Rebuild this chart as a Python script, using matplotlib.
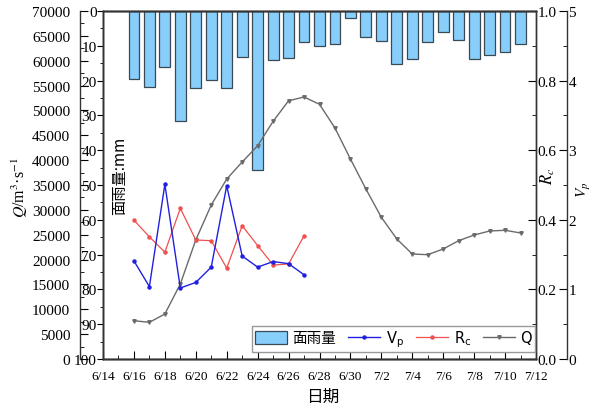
import numpy as np
import pandas as pd
import matplotlib
matplotlib.use('Agg')
import matplotlib.pyplot as plt
from matplotlib.ticker import MultipleLocator

plt.rcParams['font.family'] = ['Liberation Serif', 'Noto Sans CJK SC']

# daily areal rainfall (mm), 6/16 - 7/11
rain_dates = ['06-16', '06-17', '06-18', '06-19', '06-20', '06-21', '06-22', '06-23',
              '06-24', '06-25', '06-26', '06-27', '06-28', '06-29', '06-30', '07-01',
              '07-02', '07-03', '07-04', '07-05', '07-06', '07-07', '07-08', '07-09',
              '07-10', '07-11']
rain = [19.5, 21.9, 16.1, 31.7, 22.0, 19.7, 22.1, 13.2, 45.8, 14.1, 13.4, 8.9, 10.0,
        9.5, 1.9, 7.4, 8.5, 15.2, 13.8, 8.9, 6.0, 8.2, 13.8, 12.6, 11.8, 9.6]

# discharge Q (m3/s), same dates
q = [7700, 7380, 9050, 15090, 23940, 30980, 36200, 39630, 42900, 47810, 51940, 52700,
     51230, 46470, 40230, 34200, 28500, 24140, 21120, 20980, 22130, 23800, 24940,
     25750, 25890, 25350]

# Vp and Rc, 6/16 - 6/27
idx_dates = ['06-16', '06-17', '06-18', '06-19', '06-20', '06-21', '06-22', '06-23',
             '06-24', '06-25', '06-26', '06-27']
vp = [1.41, 1.04, 2.51, 1.02, 1.10, 1.32, 2.49, 1.48, 1.32, 1.40, 1.37, 1.21]
rc = [0.399, 0.351, 0.307, 0.433, 0.342, 0.340, 0.261, 0.383, 0.326, 0.270, 0.273, 0.354]

tick_labels = ['6/14', '6/16', '6/18', '6/20', '6/22', '6/24', '6/26', '6/28', '6/30',
               '7/2', '7/4', '7/6', '7/8', '7/10', '7/12']

start = pd.Timestamp('2020-06-14')
def to_day(ds):
    return np.array([(pd.Timestamp('2020-' + d) - start).days for d in ds])

x_rain = to_day(rain_dates)
x_idx = to_day(idx_dates)

fig = plt.figure(figsize=(6, 4.1), dpi=100)
ax = fig.add_axes([103/600, 50/410, 433/600, 348/410])

# rainfall bars hanging from the top
bars = ax.bar(x_rain, rain, width=0.7, color='#87cefa', edgecolor='#3a4a55',
              linewidth=0.9, label='面雨量')
ax.set_ylim(100, 0)
ax.set_xlim(0, 28)
ax.yaxis.set_major_locator(MultipleLocator(10))
ax.yaxis.set_minor_locator(MultipleLocator(5))
ax.set_xticks(np.arange(0, 29, 2))
ax.set_xticklabels(tick_labels)
ax.xaxis.set_minor_locator(MultipleLocator(1))
ax.tick_params(axis='y', which='both', direction='out', labelsize=11, pad=0.5)
ax.tick_params(axis='y', which='major', length=4)
ax.tick_params(axis='y', which='minor', length=2.5)
ax.tick_params(axis='x', which='both', direction='in', labelsize=9.5, pad=8)
ax.tick_params(axis='x', which='major', length=6)
ax.tick_params(axis='x', which='minor', length=3)

# Q axis, offset to the left
axq = ax.twinx()
axq.spines['left'].set_position(('axes', -23/433))
axq.spines['left'].set_visible(True)
axq.spines['right'].set_visible(False)
axq.yaxis.tick_left()
axq.set_ylim(0, 70000)
axq.yaxis.set_major_locator(MultipleLocator(5000))
axq.yaxis.set_minor_locator(MultipleLocator(2500))
axq.tick_params(axis='y', which='both', direction='in', labelsize=11, pad=7)
axq.tick_params(axis='y', which='major', length=6)
axq.tick_params(axis='y', which='minor', length=3)
lq, = axq.plot(x_rain, q, color='#6a6a6a', lw=1.0, marker='v', ms=2.5, label='Q')

# Rc axis
axr = ax.twinx()
axr.set_ylim(0, 1.0)
axr.yaxis.set_major_locator(MultipleLocator(0.2))
axr.yaxis.set_minor_locator(MultipleLocator(0.1))
axr.yaxis.set_major_formatter('{x:.1f}')
axr.tick_params(axis='y', which='both', direction='in', labelsize=11, pad=1)
axr.tick_params(axis='y', which='major', length=6)
axr.tick_params(axis='y', which='minor', length=3)
lr, = axr.plot(x_idx, rc, color='#f05050', lw=0.9, marker='o', ms=2.2, label=r'R$_\mathrm{c}$')

# Vp axis, offset to the right
axv = ax.twinx()
axv.spines['right'].set_position(('axes', 464/433))
axv.set_ylim(0, 5)
axv.yaxis.set_major_locator(MultipleLocator(1))
axv.yaxis.set_minor_locator(MultipleLocator(0.5))
axv.tick_params(axis='y', which='both', direction='in', labelsize=11, pad=1)
axv.tick_params(axis='y', which='major', length=6)
axv.tick_params(axis='y', which='minor', length=3)
lv, = axv.plot(x_idx, vp, color='#2020e0', lw=1.0, marker='o', ms=2.2, label=r'V$_\mathrm{p}$')

for a in (ax, axq, axr, axv):
    for s in a.spines.values():
        s.set_color('#333333')
        s.set_linewidth(1.0)

leg = axv.legend(handles=[bars, lv, lr, lq], loc='lower right',
                 bbox_to_anchor=(0.998, 0.02), ncol=4, fancybox=False,
                 edgecolor='#999999', framealpha=1, handlelength=2.2,
                 handleheight=1.0, columnspacing=0.8, handletextpad=0.4,
                 borderpad=0.2, borderaxespad=0,
                 prop={'family': ['DejaVu Sans', 'Noto Sans CJK SC'], 'size': 10.5})

fig.text(20/600, 1 - 188/410, r'$Q$/m$^3$·s$^{-1}$', rotation=90, ha='center',
         va='center', fontsize=11.5, math_fontfamily='stix')
fig.text(120/600, 1 - 176/410, '面雨量:mm', rotation=90, ha='center', va='center',
         fontsize=11, family=['Noto Sans CJK SC'])
fig.text(548/600, 1 - 176/410, r'$R_c$', rotation=90, ha='center', va='center',
         fontsize=12, math_fontfamily='stix')
fig.text(584/600, 1 - 190/410, r'$V_p$', rotation=90, ha='center', va='center',
         fontsize=11, math_fontfamily='stix')
fig.text(323/600, 1 - 397/410, '日期', ha='center', va='center', fontsize=12,
         family=['Noto Sans CJK SC'])

fig.savefig('out.png', dpi=100)
